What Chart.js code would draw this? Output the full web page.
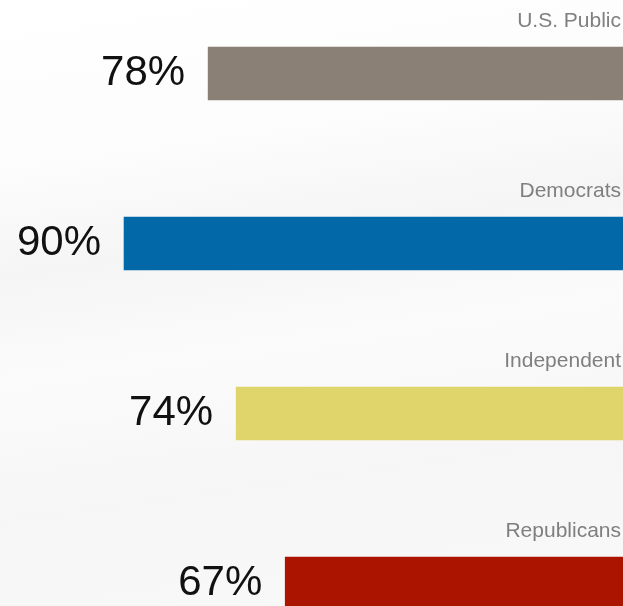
<!DOCTYPE html>
<html>
<head>
<meta charset="utf-8">
<script src="https://cdn.jsdelivr.net/npm/chart.js@4/dist/chart.umd.min.js"></script>
<style>
  html, body { margin: 0; padding: 0; }
  body {
    width: 623px; height: 606px; overflow: hidden;
    background: linear-gradient(172deg, #ffffff 0%, #fcfcfc 25%, #f5f5f5 40%, #fbfbfb 55%, #f6f6f6 75%, #f9f9f9 100%);
  }
  #wrap { position: relative; width: 623px; height: 606px; }
</style>
</head>
<body>
<div id="wrap"><canvas id="chart"></canvas></div>
<script>
// Share of each group, in percent
const groups = ['U.S. Public', 'Democrats', 'Independent', 'Republicans'];
const shares = [78, 90, 74, 67];
const barColors = ['#8a8076', '#0368a7', '#dfd56a', '#ab1500'];

// Draws the percentage beside each bar and the group name above its right end
const barLabels = {
  id: 'barLabels',
  afterDatasetsDraw(chart) {
    const ctx = chart.ctx;
    const meta = chart.getDatasetMeta(0);
    ctx.save();
    meta.data.forEach((bar, i) => {
      const h = bar.height;
      ctx.fillStyle = '#111111';
      ctx.font = '42px "Liberation Sans", Arial, Helvetica, sans-serif';
      ctx.textAlign = 'right';
      ctx.textBaseline = 'middle';
      ctx.fillText(shares[i] + '%', bar.x - 23, bar.y);

      ctx.fillStyle = '#7f7f7f';
      ctx.font = '21px "Liberation Sans", Arial, Helvetica, sans-serif';
      ctx.textAlign = 'right';
      ctx.textBaseline = 'alphabetic';
      ctx.fillText(groups[i], chart.chartArea.right - 2, bar.y - h / 2 - 20);
    });
    ctx.restore();
  }
};

new Chart(document.getElementById('chart'), {
  type: 'bar',
  data: {
    labels: groups,
    datasets: [{
      data: shares,
      backgroundColor: barColors,
      borderWidth: 0,
      barThickness: 53,
      clip: false
    }]
  },
  options: {
    indexAxis: 'y',
    responsive: true,
    maintainAspectRatio: false,
    animation: false,
    layout: { padding: { top: 73.5, bottom: 22.5, left: 0, right: 0 } },
    plugins: { legend: { display: false }, tooltip: { enabled: false } },
    scales: {
      x: { display: false, reverse: true, min: 18.8, max: 107.7 },
      y: { display: false, offset: false, grid: { display: false } }
    }
  },
  plugins: [barLabels]
});
</script>
</body>
</html>
